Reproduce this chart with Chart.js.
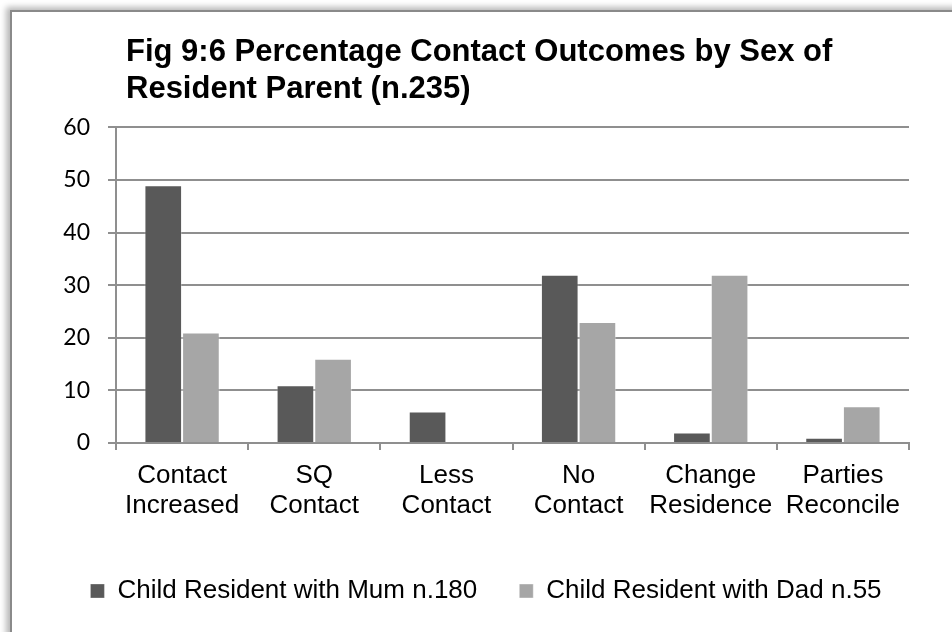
<!DOCTYPE html>
<html><head><meta charset="utf-8">
<script src="https://cdn.jsdelivr.net/npm/chart.js@4"></script>
<style>
html,body{margin:0;padding:0;background:#fff;width:952px;height:632px;overflow:hidden}
#frame{position:absolute;left:10px;top:10px;width:980px;height:660px;background:#fff;border-left:2px solid #8a8a8a;border-top:2px solid #8a8a8a;box-shadow:-4px -3px 6px rgba(0,0,0,0.28)}
#c{position:absolute;left:0;top:0}
</style></head><body>
<div id="frame"></div>
<canvas id="c" width="952" height="632"></canvas>
<script>
const titleLines = ["Fig 9:6 Percentage Contact Outcomes by Sex of", "Resident Parent (n.235)"];
const categories = [["Contact","Increased"],["SQ","Contact"],["Less","Contact"],["No","Contact"],["Change","Residence"],["Parties","Reconcile"]];
const seriesNames = ["Child Resident with Mum n.180", "Child Resident with Dad n.55"];
const mumValues = [49, 11, 6, 32, 2, 1];
const dadValues = [21, 16, 0, 23, 32, 7];
const yMin = 0, yMax = 60, yStep = 10;

const GRID = '#8f8f8f';

const titleShift = {
  id: 'titleShift',
  afterLayout(chart) {
    if (chart.titleBlock) {
      chart.titleBlock.left += 10;
      chart.titleBlock.right += 10;
    }
  }
};

new Chart(document.getElementById('c'), {
  type: 'bar',
  data: {
    labels: categories,
    datasets: [
      { label: seriesNames[0], data: mumValues, backgroundColor: '#595959', borderColor: 'rgba(255,255,255,0.3)', borderWidth: 1, categoryPercentage: 0.57, barPercentage: 1.0 },
      { label: seriesNames[1], data: dadValues, backgroundColor: '#a6a6a6', borderColor: 'rgba(255,255,255,0.4)', borderWidth: 1, categoryPercentage: 0.57, barPercentage: 1.0 }
    ]
  },
  options: {
    responsive: false,
    animation: false,
    layout: { padding: { left: 20, right: 0, top: 0, bottom: 18 } },
    plugins: {
      tooltip: { enabled: false },
      title: {
        display: true,
        text: titleLines,
        align: 'start',
        fullSize: false,
        color: '#000',
        font: { family: "'Liberation Sans', Arial, sans-serif", size: 31, weight: 'bold', lineHeight: 1.2 },
        padding: { top: 34, bottom: 19 }
      },
      legend: {
        display: true,
        position: 'bottom',
        labels: {
          color: '#000',
          font: { family: "'Liberation Sans', Arial, sans-serif", size: 26 },
          boxWidth: 14,
          boxHeight: 14,
          padding: 42
        }
      }
    },
    scales: {
      x: {
        afterFit(scale) { scale.height = 93; },
        grid: { display: true, drawOnChartArea: false, drawTicks: true, tickLength: 7, color: GRID, lineWidth: 2, offset: true },
        border: { display: true, color: GRID, width: 2 },
        ticks: { color: '#000', padding: 11, maxRotation: 0, autoSkip: false, font: { family: "'Liberation Sans', Arial, sans-serif", size: 26, lineHeight: 1.15 } }
      },
      y: {
        min: yMin, max: yMax,
        afterFit(scale) { scale.width = 96; },
        grid: { display: true, drawOnChartArea: true, drawTicks: true, tickLength: 8, color: GRID, lineWidth: 2 },
        border: { display: true, color: GRID, width: 2 },
        ticks: { stepSize: yStep, color: '#000', padding: 18, font: { family: "Lato, 'Open Sans', sans-serif", size: 23 } }
      },
      yRightSpace: {
        type: 'linear',
        position: 'right',
        min: yMin, max: yMax,
        display: true,
        afterFit(scale) { scale.width = 43; },
        grid: { display: false, drawTicks: false },
        border: { display: false },
        ticks: { display: false }
      }
    }
  },
  plugins: [titleShift]
});
</script>
</body></html>
